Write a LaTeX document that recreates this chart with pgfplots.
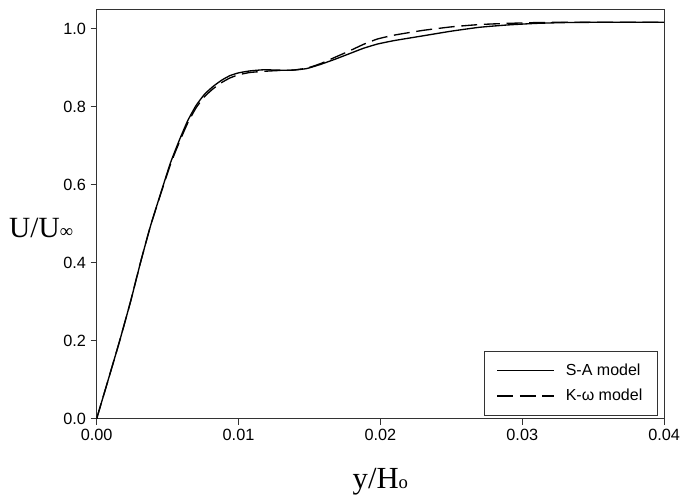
\documentclass[border=0pt]{standalone}
\usepackage{fontspec}
\setmainfont{Liberation Sans}
\newfontfamily\serif{Liberation Serif}
\usepackage{pgfplots}
\pgfplotsset{compat=1.18}

\begin{document}
\begin{tikzpicture}
\useasboundingbox (-72.5pt,-58pt) rectangle (438.25pt,314pt);
\begin{axis}[
    scale only axis,
    width=425.6pt, height=307pt,
    xmin=0, xmax=0.04, ymin=0, ymax=1.05,
    xtick={0,0.01,0.02,0.03,0.04},
    ytick={0,0.2,0.4,0.6,0.8,1.0},
    scaled x ticks=false,
    xticklabel style={/pgf/number format/.cd,fixed,fixed zerofill,precision=2},
    yticklabel style={/pgf/number format/.cd,fixed,fixed zerofill,precision=1},
    /pgf/number format/assume math mode=true,
    ticklabel style={font=\fontsize{12.2}{14}\selectfont},
    tick pos=left, tick align=outside,
    major tick length=4.5pt,
    axis line style={black!80, line width=0.8pt},
    every tick/.style={black!80, line width=0.8pt},
    xlabel={\serif y/H{\fontsize{14}{14}\selectfont o}},
    xlabel style={font=\fontsize{23}{26}\selectfont, at={(axis description cs:0.5,0)}, anchor=base, yshift=-52pt},
    ylabel={\serif U/U{\fontsize{14}{14}\selectfont ∞}},
    ylabel style={font=\fontsize{22}{26}\selectfont, rotate=-90, at={(axis description cs:0,0.466)}, anchor=east, inner sep=0pt, xshift=-17.5pt},
    legend style={at={(axis description cs:1,0)}, anchor=south east, xshift=-5pt, yshift=2pt,
        draw=black!80, line width=0.7pt, font=\fontsize{12}{14}\selectfont,
        inner xsep=9pt, inner ysep=7.5pt, row sep=5pt,
        /tikz/every odd column/.append style={column sep=6pt}},
    legend cell align=left,
    legend image code/.code={\draw[#1, line width=1pt] (0pt,0pt) -- (43pt,0pt);},
]
\addplot[black, line width=1pt, smooth, tension=0.3] coordinates {
(0,0) (0.0008,0.098) (0.0016,0.197) (0.0024,0.302) (0.0031,0.402) (0.0038,0.495)
(0.0046,0.588) (0.0052,0.656) (0.0058,0.712) (0.0064,0.763) (0.0070,0.803)
(0.0076,0.832) (0.0082,0.852) (0.0088,0.868) (0.0094,0.880) (0.0100,0.887)
(0.0108,0.892) (0.0118,0.895) (0.0128,0.894) (0.0138,0.894) (0.0148,0.898)
(0.0158,0.909) (0.0168,0.922) (0.0178,0.936) (0.0188,0.950) (0.0198,0.961)
(0.0210,0.970) (0.0230,0.982) (0.0250,0.994) (0.0270,1.004) (0.0290,1.010)
(0.0310,1.014) (0.0330,1.016) (0.0360,1.017) (0.0400,1.017)
};
\addlegendentry{S-A model}
\addplot[black, line width=1pt, dash pattern=on 12pt off 5pt, smooth, tension=0.3] coordinates {
(0,0) (0.0008,0.098) (0.0016,0.197) (0.0024,0.302) (0.0031,0.402) (0.0038,0.495)
(0.0046,0.586) (0.0052,0.652) (0.0058,0.707) (0.0064,0.757) (0.0070,0.797)
(0.0076,0.826) (0.0082,0.846) (0.0088,0.862) (0.0094,0.874) (0.0100,0.882)
(0.0108,0.888) (0.0118,0.891) (0.0128,0.893) (0.0138,0.894) (0.0148,0.899)
(0.0158,0.911) (0.0168,0.927) (0.0178,0.943) (0.0188,0.960) (0.0198,0.974)
(0.0210,0.984) (0.0230,0.996) (0.0250,1.005) (0.0270,1.011) (0.0290,1.014)
(0.0310,1.016) (0.0330,1.017) (0.0360,1.017) (0.0400,1.017)
};
\addlegendentry{K-ω model}
\end{axis}
\end{tikzpicture}
\end{document}
